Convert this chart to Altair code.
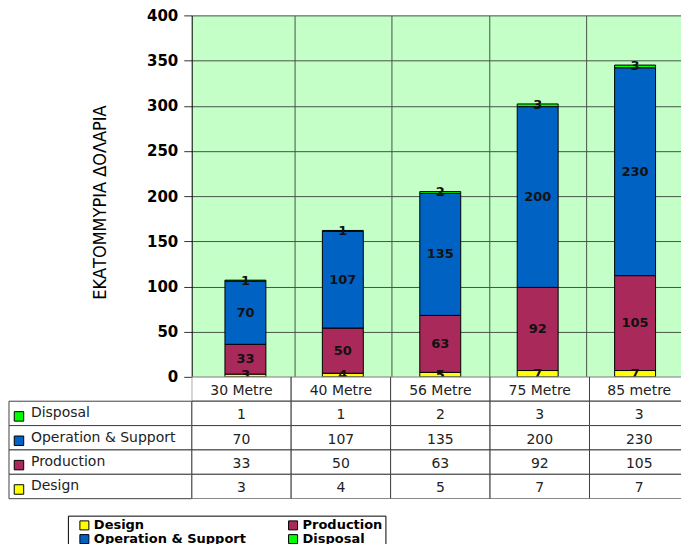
import altair as alt
import pandas as pd

categories = ["30 Metre", "40 Metre", "56 Metre", "75 Metre", "85 metre"]
series = ["Design", "Production", "Operation & Support", "Disposal"]
design = [3, 4, 5, 7, 7]
production = [33, 50, 63, 92, 105]
operation = [70, 107, 135, 200, 230]
disposal = [1, 1, 2, 3, 3]
colors = ["#FFFF00", "#A8295A", "#0062C2", "#00FF00"]
table_rows = ["Disposal", "Operation & Support", "Production", "Design"]
y_ticks = [0, 50, 100, 150, 200, 250, 300, 350, 400]
y_title = "ΕΚΑΤΟΜΜΥΡΙΑ ΔΟΛΑΡΙΑ"

series_values = {
    "Design": design,
    "Production": production,
    "Operation & Support": operation,
    "Disposal": disposal,
}

records = []
for i, s in enumerate(series):
    for j, (c, v) in enumerate(zip(categories, series_values[s])):
        records.append({"category": c, "idx": j, "series": s, "value": v, "order": i})
df = pd.DataFrame(records)

row_order = ["hdr"] + table_rows
trecs = [{"category": c, "idx": j, "row": "hdr", "label": c} for j, c in enumerate(categories)]
for s in table_rows:
    for j, (c, v) in enumerate(zip(categories, series_values[s])):
        trecs.append({"category": c, "idx": j, "row": s, "label": str(v)})
tdf = pd.DataFrame(trecs)
ldf = pd.DataFrame({"row": table_rows, "series": table_rows})

# the last column runs past the right edge of the picture, as in the original
x_scale = alt.Scale(domain=[0, 4.92], nice=False, zero=False)
color_scale = alt.Scale(domain=series, range=colors)
GRID = "#465246"

bars = alt.Chart(df).transform_calculate(xc="datum.idx + 0.5").mark_bar(
    size=41, stroke="black", strokeWidth=1
).encode(
    x=alt.X("xc:Q", scale=x_scale,
            axis=alt.Axis(title=None, labels=False, ticks=False, domain=True,
                          domainColor="black", domainWidth=1, grid=True,
                          values=[1, 2, 3, 4],
                          gridColor=GRID, gridWidth=1)),
    y=alt.Y("value:Q", stack="zero", scale=alt.Scale(domain=[0, 400], nice=False),
            axis=alt.Axis(values=y_ticks, title=y_title, grid=True, gridColor=GRID,
                          gridWidth=1, tickSize=8, tickColor="#333333",
                          domainColor="black", labelFont="DejaVu Sans",
                          labelFontWeight="bold", labelFontSize=15,
                          labelColor="black", labelPadding=6,
                          titleFont="Liberation Sans Narrow, DejaVu Sans Condensed, Arial Narrow",
                          titleFontSize=18, titleFontWeight="normal",
                          titleColor="black", titlePadding=37, titleY=187)),
    color=alt.Color("series:N", scale=color_scale,
                    legend=alt.Legend(title=None, orient="none", legendX=-124, legendY=501,
                                      columns=2, direction="horizontal",
                                      symbolType="square", symbolSize=81,
                                      symbolStrokeColor="black", symbolStrokeWidth=1,
                                      labelFont="DejaVu Sans", labelFontWeight="bold",
                                      labelFontSize=13, labelColor="black",
                                      strokeColor="black", fillColor="white",
                                      padding=3, rowPadding=0, columnPadding=33,
                                      symbolOffset=7, labelOffset=3, labelLimit=300,
                                      gridAlign="all")),
    order=alt.Order("order:Q", sort="ascending"),
)

labels = alt.Chart(df).transform_window(
    cum="sum(value)", groupby=["category"], sort=[alt.SortField("order")], frame=[None, 0]
).transform_calculate(
    mid="datum.cum - datum.value / 2", xc="datum.idx + 0.5"
).mark_text(font="DejaVu Sans", fontWeight="bold", fontSize=13, color="#111111").encode(
    x=alt.X("xc:Q", scale=x_scale),
    y=alt.Y("mid:Q"),
    text=alt.Text("value:Q"),
)

top = alt.layer(bars, labels).properties(
    width=490, height=362,
    view=alt.ViewBackground(fill="#C4FFC8", strokeWidth=0),
)

row_y = alt.Y("row:N", sort=row_order,
              scale=alt.Scale(domain=row_order, paddingInner=0, paddingOuter=0), axis=None)

tbase = alt.Chart(tdf).transform_calculate(
    x0="datum.idx", x1="datum.idx + 1", xc="datum.idx + 0.5"
)
cells = tbase.mark_rect(fill="white", stroke="#404040", strokeWidth=1, clip=True).encode(
    x=alt.X("x0:Q", scale=x_scale, axis=None), x2="x1:Q", y=row_y)
ctext = tbase.mark_text(font="DejaVu Sans", fontSize=14, color="#222222", clip=True, dy=2).encode(
    x=alt.X("xc:Q", scale=x_scale, axis=None), y=row_y, text="label:N")
lcells = alt.Chart(ldf).mark_rect(fill="white", stroke="#404040", strokeWidth=1).encode(
    x=alt.value(-183), x2=alt.value(0), y=row_y)
lsq = alt.Chart(ldf).mark_point(shape="square", filled=True, size=90, stroke="black",
                                strokeWidth=1, opacity=1, yOffset=3).encode(
    x=alt.value(-173), y=row_y,
    color=alt.Color("series:N", scale=color_scale, legend=None))
ltext = alt.Chart(ldf).mark_text(font="DejaVu Sans", fontSize=14, color="#222222", align="left").encode(
    x=alt.value(-161), y=row_y, text="row:N")

table = alt.layer(cells, ctext, lcells, lsq, ltext).properties(
    width=490, height=122,
    view=alt.ViewBackground(fill="white", strokeWidth=0),
)

chart = alt.vconcat(top, table, spacing=0, bounds="flush").properties(
    padding={"left": 8, "top": 8, "right": 0, "bottom": 0},
    background="white",
).configure_view(strokeWidth=0)

chart.save("out.html", embed_options={"renderer": "svg", "actions": False})
